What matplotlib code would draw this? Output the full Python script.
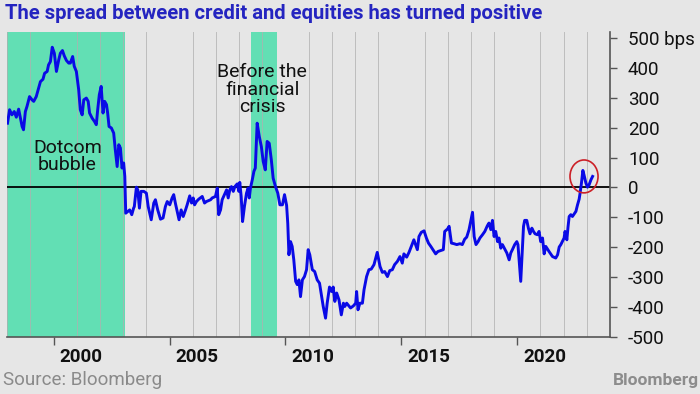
import numpy as np
import matplotlib.pyplot as plt
from matplotlib.patches import Ellipse
import matplotlib.transforms as mtransforms

# spread between credit and equities, bps
years = [
    1998.01, 1998.10, 1998.20, 1998.30, 1998.39, 1998.49, 1998.64, 1998.70, 1998.78, 1998.85,
    1998.96, 1999.07, 1999.14, 1999.25, 1999.35, 1999.43, 1999.54, 1999.61, 1999.72, 1999.78,
    1999.86, 1999.94, 2000.03, 2000.12, 2000.22, 2000.29, 2000.38, 2000.46, 2000.55, 2000.65,
    2000.72, 2000.82, 2000.89, 2000.98, 2001.08, 2001.15, 2001.23, 2001.30, 2001.41, 2001.49,
    2001.55, 2001.66, 2001.76, 2001.84, 2001.90, 2001.97, 2002.05, 2002.13, 2002.20, 2002.28,
    2002.33, 2002.39, 2002.49, 2002.59, 2002.66, 2002.74, 2002.81, 2002.88, 2002.95, 2003.02,
    2003.07, 2003.11, 2003.20, 2003.28, 2003.37, 2003.45, 2003.48, 2003.57, 2003.63, 2003.70,
    2003.77, 2003.89, 2004.00, 2004.08, 2004.21, 2004.32, 2004.39, 2004.49, 2004.61, 2004.72,
    2004.82, 2004.90, 2005.01, 2005.11, 2005.18, 2005.25, 2005.33, 2005.41, 2005.50, 2005.59,
    2005.69, 2005.76, 2005.87, 2005.95, 2006.02, 2006.08, 2006.16, 2006.26, 2006.41, 2006.51,
    2006.59, 2006.77, 2006.84, 2006.98, 2007.06, 2007.12, 2007.20, 2007.27, 2007.37, 2007.46,
    2007.53, 2007.60, 2007.67, 2007.75, 2007.82, 2007.92, 2007.99, 2008.03, 2008.09, 2008.15,
    2008.23, 2008.32, 2008.39, 2008.44, 2008.49, 2008.57, 2008.64, 2008.70, 2008.78, 2008.87,
    2008.96, 2009.04, 2009.13, 2009.21, 2009.30, 2009.39, 2009.47, 2009.57, 2009.67, 2009.76,
    2009.87, 2009.96, 2010.05, 2010.10, 2010.15, 2010.22, 2010.29, 2010.36, 2010.44, 2010.51,
    2010.58, 2010.65, 2010.73, 2010.82, 2010.91, 2010.98, 2011.05, 2011.16, 2011.26, 2011.37,
    2011.47, 2011.55, 2011.63, 2011.73, 2011.80, 2011.90, 2011.99, 2012.06, 2012.13, 2012.21,
    2012.31, 2012.41, 2012.50, 2012.56, 2012.64, 2012.81, 2012.93, 2013.03, 2013.07, 2013.13,
    2013.21, 2013.32, 2013.39, 2013.50, 2013.60, 2013.70, 2013.82, 2013.96, 2014.08, 2014.18,
    2014.28, 2014.40, 2014.50, 2014.61, 2014.71, 2014.83, 2014.94, 2015.04, 2015.11, 2015.23,
    2015.33, 2015.43, 2015.54, 2015.69, 2015.76, 2015.86, 2015.98, 2016.08, 2016.17, 2016.27,
    2016.48, 2016.58, 2016.70, 2016.81, 2016.87, 2016.99, 2017.06, 2017.16, 2017.27, 2017.39,
    2017.53, 2017.63, 2017.73, 2017.82, 2017.92, 2018.07, 2018.14, 2018.22, 2018.31, 2018.39,
    2018.50, 2018.60, 2018.71, 2018.78, 2018.86, 2018.93, 2019.00, 2019.07, 2019.15, 2019.21,
    2019.29, 2019.36, 2019.46, 2019.55, 2019.65, 2019.72, 2019.79, 2019.89, 2019.98, 2020.03,
    2020.15, 2020.27, 2020.32, 2020.41, 2020.48, 2020.55, 2020.63, 2020.70, 2020.77, 2020.87,
    2020.94, 2021.01, 2021.09, 2021.16, 2021.23, 2021.37, 2021.52, 2021.66, 2021.74, 2021.81,
    2021.88, 2022.02, 2022.06, 2022.14, 2022.19, 2022.24, 2022.31, 2022.38, 2022.53, 2022.60,
    2022.67, 2022.71, 2022.77, 2022.83, 2022.88, 2022.96, 2023.03, 2023.10, 2023.18, 2023.25,
]
spread = [
    215, 260, 243, 254, 235, 262, 204, 193, 254, 271,
    304, 293, 288, 304, 332, 354, 362, 382, 388, 410,
    421, 469, 449, 388, 427, 449, 458, 440, 425, 416,
    416, 438, 405, 388, 327, 260, 243, 293, 299, 288,
    249, 232, 221, 210, 260, 310, 338, 249, 288, 277,
    249, 204, 199, 182, 126, 70, 143, 132, 65, 82,
    37, -86, -80, -75, -91, -69, -64, 1, -8, -69,
    -13, -13, -19, -64, -108, -52, -41, -75, -106, -102,
    -64, -47, -58, -35, -24, -52, -80, -108, -75, -97,
    -75, -58, -28, -52, -35, -58, -47, -39, -30, -52,
    -47, -41, -35, -30, -2, -91, -75, -41, -24, -8,
    -35, -8, 3, -13, 3, 12, -13, 17, -30, -114,
    -64, -19, -2, -35, -2, 26, 54, 65, 215, 171,
    137, 87, 59, 154, 148, 93, 31, 3, -19, -58,
    -58, -24, -60, -120, -225, -181, -197, -242, -314, -325,
    -309, -365, -309, -298, -275, -208, -225, -275, -281, -309,
    -320, -359, -398, -437, -387, -333, -348, -333, -381, -353,
    -376, -426, -387, -398, -387, -403, -396, -387, -348, -409,
    -387, -387, -342, -298, -275, -273, -258, -217, -264, -284,
    -281, -298, -278, -275, -258, -247, -231, -253, -222, -233,
    -217, -197, -175, -208, -164, -150, -145, -169, -186, -197,
    -222, -214, -211, -208, -147, -139, -130, -186, -188, -191,
    -188, -191, -173, -166, -141, -83, -164, -191, -181, -169,
    -158, -147, -128, -119, -141, -110, -164, -147, -181, -169,
    -203, -191, -206, -219, -242, -219, -208, -191, -181, -191,
    -314, -130, -110, -110, -136, -155, -136, -147, -155, -158,
    -147, -181, -169, -222, -197, -214, -231, -236, -225, -199,
    -191, -169, -147, -175, -132, -97, -91, -97, -80, -58,
    -39, -19, 15, 57, 42, 15, 1, 9, 26, 37,
]

# shaded periods
dotcom = (1998.0, 2003.07)
crisis = (2008.52, 2009.62)

x_ticks = [2000, 2005, 2010, 2015, 2020]
y_ticks = [-500, -400, -300, -200, -100, 0, 100, 200, 300, 400, 500]
y_labels = ['-500', '-400', '-300', '-200', '-100', '0', '100', '200', '300', '400', '500 bps']

bg = '#e6e6e6'
plt.rcParams['font.family'] = ['Roboto', 'DejaVu Sans']

fig = plt.figure(figsize=(7, 3.94), dpi=100, facecolor=bg)
ax = fig.add_axes([0.0104, 0.1447, 0.8610, 0.7741])
ax.set_facecolor(bg)

ax.axvspan(dotcom[0], dotcom[1], color='#62dfb4', lw=0, zorder=0)
ax.axvspan(crisis[0], crisis[1], color='#62dfb4', lw=0, zorder=0)

ax.set_xticks(np.arange(1998, 2025), minor=True)
ax.set_yticks(np.arange(-500, 501, 100), minor=True)
ax.grid(which='minor', color='#b0b0b0', lw=0.7, alpha=0.75, zorder=1)
ax.axhline(0, color='black', lw=1.3, zorder=2)

ax.plot(years, spread, color='#0a0ae6', lw=2.1, zorder=3, solid_joinstyle='round')

# red circle round the recent peak
i_peak = int(np.argmax(spread[-20:])) + len(spread) - 20
ax.add_patch(Ellipse((years[i_peak] + 0.05, spread[i_peak] - 20), 1.21, 110,
                     fill=False, ec='#cc2027', lw=1.2, zorder=4))

ax.text(2000.6, 104, 'Dotcom\nbubble', ha='center', va='center', fontsize=14,
        color='#111111', linespacing=0.95)
ax.text(2009.0, 327, 'Before the\nfinancial\ncrisis', ha='center', va='center',
        fontsize=14, color='#111111', linespacing=0.95)

ax.set_xlim(1998, 2024)
ax.set_ylim(-500, 520)

ax.yaxis.tick_right()
ax.set_yticks(y_ticks)
ax.set_yticklabels(y_labels)
ax.set_xticks(x_ticks)
ax.set_xticklabels([str(v) for v in x_ticks], fontweight='bold')
ax.tick_params(axis='y', which='major', direction='out', length=5, width=1, color='#555555',
               labelsize=13.5, pad=8, labelcolor='#111111')
ax.tick_params(axis='x', which='major', direction='out', length=6, width=1, color='#555555',
               labelsize=13.5, pad=2, labelcolor='#111111')
ax.tick_params(which='minor', length=0)
offset = mtransforms.ScaledTranslation(6 / 100, 0, fig.dpi_scale_trans)
for lab in ax.get_xticklabels():
    lab.set_horizontalalignment('left')
    lab.set_transform(lab.get_transform() + offset)

for side in ['top', 'left']:
    ax.spines[side].set_visible(False)
ax.spines['right'].set_color('#555555')
ax.spines['bottom'].set_color('#555555')
ax.spines['right'].set_linewidth(1.2)
ax.spines['bottom'].set_linewidth(1.2)

fig.text(0.007, 0.966, 'The spread between credit and equities has turned positive',
         ha='left', va='center', fontsize=14.6, color='#2424c0', fontweight='bold')
fig.text(0.004, 0.035, 'Source: Bloomberg', ha='left', va='center', fontsize=13.5,
         color='#8a8a8a')
fig.text(0.999, 0.033, 'Bloomberg', ha='right', va='center', fontsize=12.5,
         color='#8c8c8c', fontweight='bold')

fig.savefig('out.png', dpi=100, facecolor=bg)
